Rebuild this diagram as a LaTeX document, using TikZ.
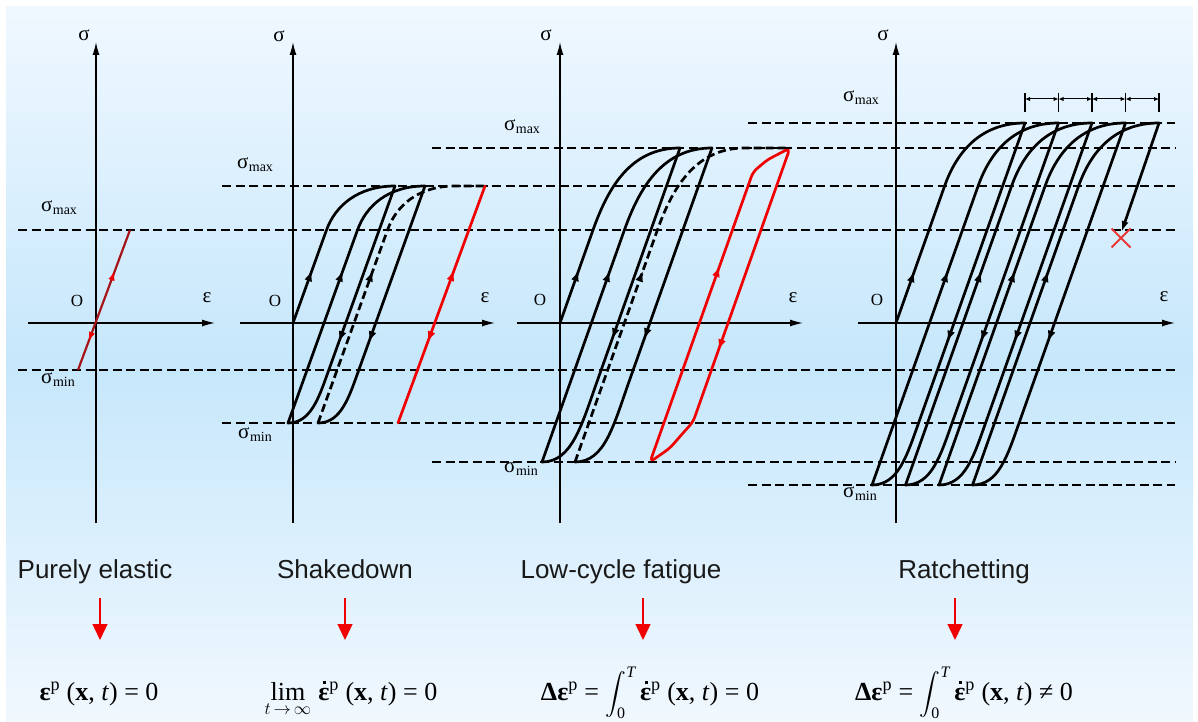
\documentclass[tikz,border=0pt]{standalone}
\usepackage{fontspec}
\usepackage{amsmath}
\setmainfont{Liberation Serif}
\newfontfamily\casefont{Liberation Sans}
\usetikzlibrary{arrows.meta,decorations.markings}

\definecolor{bgtop}{RGB}{240,248,255}
\definecolor{bgmid}{RGB}{198,231,251}
\definecolor{bgbot}{RGB}{241,248,254}
\definecolor{loopred}{RGB}{240,0,0}
\definecolor{darkred}{RGB}{165,20,25}
\definecolor{crossred}{RGB}{235,55,55}
\definecolor{casegray}{RGB}{25,25,25}

\newcommand{\sigmax}{σ\kern0.5pt\raisebox{-3pt}{\fontsize{14}{14}\selectfont max}}
\newcommand{\sigmin}{σ\kern0.5pt\raisebox{-3pt}{\fontsize{14}{14}\selectfont min}}
\newcommand{\epsdot}{\rlap{\kern5pt\raisebox{16.5pt}{\rule{2.8pt}{2.8pt}}}{\bfseries ε}}
\newcommand{\intzeroT}{{\fontsize{20}{24}\selectfont$\displaystyle\int_{\text{\fontsize{16}{16}\selectfont 0}}^{\text{\fontsize{16}{16}\selectfont\itshape T}}$}}

\begin{document}
\begin{tikzpicture}[x=1pt, y=-1pt,
    axis/.style={line width=1.3pt, -{Latex[length=13pt,width=7pt]}},
    sigline/.style={line width=1.8pt, dash pattern=on 9pt off 4.5pt},
    hyst/.style={line width=2.7pt, line cap=round, line join=round},
    hystdash/.style={line width=2.7pt, dash pattern=on 8pt off 4pt},
    redhyst/.style={hyst, loopred},
    tipfwd/.style={postaction={decorate, decoration={markings,
        mark=at position #1 with {\arrow{Latex[length=11pt,width=8pt]}}}}},
    tipbwd/.style={postaction={decorate, decoration={markings,
        mark=at position #1 with {\arrowreversed{Latex[length=11pt,width=8pt]}}}}},
    lbl/.style={font=\fontsize{21}{24}\selectfont, inner sep=0pt},
    origin/.style={font=\fontsize{17}{19}\selectfont, inner sep=0pt},
    casetitle/.style={font=\casefont\fontsize{26}{30}\selectfont, text=casegray, anchor=base, inner sep=0pt},
    formula/.style={font=\fontsize{26}{30}\selectfont, anchor=base, inner sep=0pt},
    flow/.style={loopred, line width=1.4pt, -{Triangle[length=16pt,width=15pt]}},
    dim/.style={line width=1pt, {Latex[length=5pt,width=4.5pt]}-{Latex[length=5pt,width=4.5pt]}}
]
    \useasboundingbox (0,0) rectangle (1198,722);

    % Background
    \shade[top color=bgtop, bottom color=bgbot, middle color=bgmid] (6,7) rectangle (1193,722);

    % Stress levels
    \foreach \y/\xa in {230/18, 370/18, 186/222, 423/222, 148/432, 462/432, 123/748, 485/748}
        \draw[sigline] (\xa,\y) -- (1175,\y);

    % Purely elastic
    \draw[axis] (96,523) -- (96,42);
    \draw[axis] (28,323) -- (215,323);
    \node[lbl] (sig1) at (84,35) {σ};
    \node[lbl] (eps1) at (207,298) {ε};
    \node[origin] (o1) at (77,301) {O};
    \node[lbl] (max1) at (59,208) {\sigmax};
    \node[lbl] (min1) at (58,380) {\sigmin};
    \draw[darkred, line width=2.2pt,
        postaction={decorate, decoration={markings,
            mark=at position 106pt with {\arrow{Latex[length=10pt,width=6.5pt,color=loopred]}},
            mark=at position 30pt with {\arrowreversed{Latex[length=10pt,width=6.5pt,color=loopred]}}}}]
        (78,370) -- (130,230);

    % Shakedown
    \draw[axis] (293,523) -- (293,42);
    \draw[axis] (240,323) -- (495,323);
    \node[lbl] (sig2) at (279,36) {σ};
    \node[lbl] (eps2) at (485,298) {ε};
    \node[origin] (o2) at (275,301) {O};
    \node[lbl] (max2) at (255,165) {\sigmax};
    \node[lbl] (min2) at (255,435) {\sigmin};
    \draw[hyst, tipfwd=56pt] (293,323) -- (326.5,230) .. controls +(8.7,-24.2) and +(-37,0) .. (395,186);
    \draw[hyst, tipfwd=166pt] (395,186) -- (325.2,380) .. controls +(-8.5,23.6) and +(20,0) .. (288,423);
    \draw[hyst, tipfwd=162pt] (288,423) -- (357.5,230) .. controls +(8.7,-24.2) and +(-37,0) .. (425,186);
    \draw[hyst, tipfwd=166pt] (425,186) -- (355.2,380) .. controls +(-8.5,23.6) and +(20,0) .. (318,423);
    \draw[hystdash, tipfwd=162pt] (318,423) -- (387.5,230) .. controls +(8.7,-24.2) and +(-37,0) .. (455,186) -- (485,186);
    \draw[redhyst, tipfwd=163pt, tipbwd=86pt] (398,423) -- (485,186);

    % Low-cycle fatigue
    \draw[axis] (560,523) -- (560,42);
    \draw[axis] (517,323) -- (803,323);
    \node[lbl] (sig3) at (546,35) {σ};
    \node[lbl] (eps3) at (793,298) {ε};
    \node[origin] (o3) at (540,300) {O};
    \node[lbl] (max3) at (522,127) {\sigmax};
    \node[lbl] (min3) at (521,469) {\sigmin};
    \draw[hyst, tipfwd=56pt] (560,323) -- (593,230) .. controls +(16,-45) and +(-48,0) .. (680,148);
    \draw[hyst, tipfwd=203pt] (680,148) -- (597.6,380) .. controls +(-16,45) and +(30,0) .. (542,462);
    \draw[hyst, tipfwd=203pt] (542,462) -- (624.4,230) .. controls +(16,-45) and +(-48,0) .. (712,148);
    \draw[hyst, tipfwd=203pt] (712,148) -- (629.6,380) .. controls +(-16,45) and +(30,0) .. (575,462);
    \draw[hystdash, tipfwd=203pt] (575,462) -- (657.4,230) .. controls +(16,-45) and +(-48,0) .. (745,148) -- (790,148);
    \draw[redhyst, rounded corners=5pt, tipfwd=203pt, tipfwd=557pt]
        (650,462) -- (753,172) -- (767,160) -- (790,148) -- (693,422) -- (683,433) -- (670,448) -- cycle;

    % Ratchetting
    \draw[axis] (896,523) -- (896,42);
    \draw[axis] (858,323) -- (1175,323);
    \node[lbl] (sig4) at (883,35) {σ};
    \node[lbl] (eps4) at (1164,297) {ε};
    \node[origin] (o4) at (877,300) {O};
    \node[lbl] (max4) at (861,98) {\sigmax};
    \node[lbl] (min4) at (860,494) {\sigmin};
    \draw[hyst, tipfwd=55pt] (896,323) -- (944.6,186) .. controls +(12.3,-34.7) and +(-44,0) .. (1025,123);
    \foreach \i in {0,1,2,3} {
        \draw[hyst, tipfwd=232pt] ({1025+33.5*\i},123) -- ++(-106.1,299)
            .. controls +(-12.3,34.7) and +(26,0) .. ++(-47,63);
        \draw[hyst, tipfwd=227pt] ({872+33.5*\i},485) -- ++(106.1,-299)
            .. controls +(12.3,-34.7) and +(-44,0) .. ++(80.4,-63);
    }
    \draw[hyst, -{Latex[length=11pt,width=7pt]}] (1159,123) -- (1121.5,232);
    \draw[crossred, line width=1.8pt] (1111.5,228.5) -- (1130.5,247.5) (1111.5,247.5) -- (1130.5,228.5);
    \foreach \x in {1025,1058.5,1092,1125.5,1159}
        \draw[line width=1.1pt] (\x,93) -- (\x,112);
    \foreach \x in {1025,1058.5,1092,1125.5}
        \draw[dim] (\x,99) -- ++(33.5,0);

    % Cases
    \node[casetitle] (pe) at (95,578) {Purely elastic};
    \node[casetitle] (sd) at (345,578) {Shakedown};
    \node[casetitle] (lcf) at (621,578) {Low-cycle fatigue};
    \node[casetitle] (rt) at (964,578) {Ratchetting};

    \node[formula] (f1) at (99,700) {{\bfseries ε}\textsuperscript{p} (\textbf{x}, \textit{t}) = 0};
    \node[formula] (f2) at (351,700) {$\mathop{\text{lim}}\limits_{\rule{0pt}{9pt}t\,\to\,\infty}$\;\epsdot\textsuperscript{p} (\textbf{x}, \textit{t}) = 0};
    \node[formula] (f3) at (650,700) {{\bfseries Δε}\textsuperscript{p} = \intzeroT\,\epsdot\textsuperscript{p} (\textbf{x}, \textit{t}) = 0};
    \node[formula] (f4) at (964,700) {{\bfseries Δε}\textsuperscript{p} = \intzeroT\,\epsdot\textsuperscript{p} (\textbf{x}, \textit{t}) ≠ 0};

    % Arrows
    \draw[flow] ([xshift=5pt, yshift=-20pt]pe.base) -- ++(0,42);
    \draw[flow] ([xshift=0pt, yshift=-20pt]sd.base) -- ++(0,42);
    \draw[flow] ([xshift=22pt, yshift=-20pt]lcf.base) -- ++(0,42);
    \draw[flow] ([xshift=-9pt, yshift=-20pt]rt.base) -- ++(0,42);

\end{tikzpicture}
\end{document}
